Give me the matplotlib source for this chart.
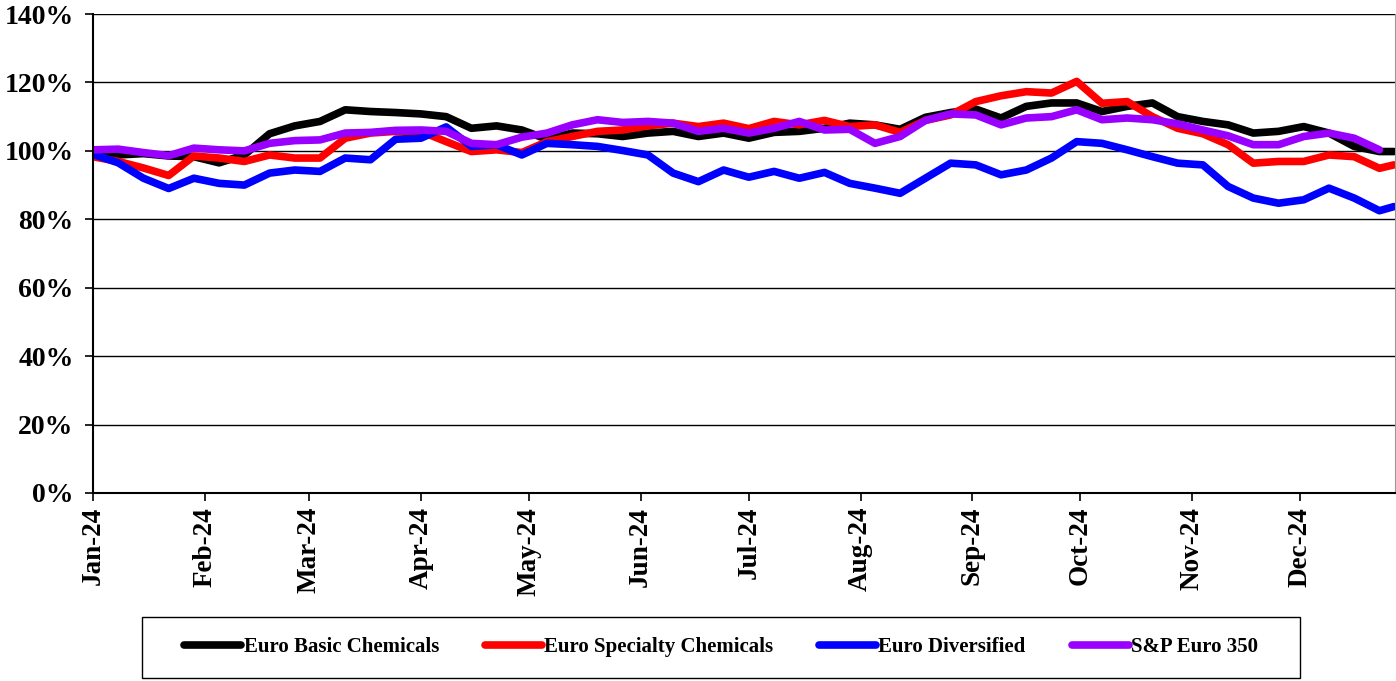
import datetime as dt
import numpy as np
import matplotlib
matplotlib.use("Agg")
import matplotlib.pyplot as plt
import matplotlib.dates as mdates
from matplotlib.patches import Rectangle
from matplotlib.ticker import FuncFormatter, MultipleLocator

# weekly readings (Mondays), last point = Dec 27
dates = [dt.datetime(2024, 1, 1) + dt.timedelta(days=7 * i) for i in range(52)]
dates.append(dt.datetime(2024, 12, 27))

basic = [99.0, 98.8, 99.2, 98.5, 98.3, 96.5, 98.8, 105.0, 107.3, 108.6,
         112.0, 111.5, 111.2, 110.8, 110.0, 106.6, 107.3, 106.1, 103.4, 105.2,
         105.0, 104.2, 105.2, 105.7, 104.2, 105.2, 103.7, 105.4, 105.7, 106.6,
         108.1, 107.6, 106.3, 109.8, 111.2, 112.2, 109.6, 113.0, 114.0, 114.0,
         111.5, 113.0, 114.0, 110.0, 108.6, 107.6, 105.2, 105.7, 107.1, 105.2,
         101.3, 99.8, 99.8]
specialty = [98.3, 96.9, 95.0, 92.8, 98.5, 97.9, 96.9, 98.8, 97.9, 97.9,
             103.7, 105.2, 105.7, 105.7, 102.7, 99.8, 100.3, 99.5, 102.7, 104.2,
             105.7, 106.1, 107.3, 108.1, 107.1, 108.1, 106.5, 108.6, 107.6, 108.9,
             107.1, 107.6, 105.4, 108.9, 110.5, 114.4, 116.1, 117.3, 116.9, 120.3,
             113.9, 114.4, 110.0, 106.6, 105.0, 101.8, 96.4, 96.9, 96.9, 98.8,
             98.3, 94.9, 95.9]
diversified = [99.0, 96.5, 92.0, 89.0, 92.0, 90.5, 90.0, 93.5, 94.4, 94.0,
               97.9, 97.4, 103.4, 103.7, 107.0, 101.3, 101.8, 98.8, 102.2, 101.8,
               101.3, 100.1, 98.8, 93.5, 91.0, 94.4, 92.3, 94.0, 92.0, 93.7,
               90.5, 89.1, 87.6, 92.0, 96.4, 95.9, 93.0, 94.4, 97.9, 102.7,
               102.2, 100.3, 98.3, 96.4, 95.9, 89.6, 86.2, 84.7, 85.7, 89.1,
               86.2, 82.5, 83.7]
sp350 = [100.3, 100.5, 99.5, 98.6, 100.8, 100.3, 100.0, 102.2, 103.0, 103.2,
         105.2, 105.4, 106.0, 106.1, 105.7, 102.2, 101.8, 104.0, 105.2, 107.6,
         109.1, 108.3, 108.6, 108.1, 105.7, 106.6, 105.2, 106.6, 108.6, 106.1,
         106.3, 102.2, 104.2, 108.9, 110.8, 110.5, 107.6, 109.6, 110.0, 112.0,
         109.1, 109.6, 109.1, 107.9, 106.1, 104.4, 101.8, 101.8, 104.2, 105.2,
         103.7, 100.3, np.nan]

series = [
    ("Euro Basic Chemicals", basic, "#000000"),
    ("Euro Specialty Chemicals", specialty, "#FF0000"),
    ("Euro Diversified", diversified, "#0000FF"),
    ("S&P Euro 350", sp350, "#9900FF"),
]

plt.rcParams['font.family'] = ['Liberation Serif', 'DejaVu Serif']
plt.rcParams['font.weight'] = 'bold'

fig = plt.figure(figsize=(13.96, 6.81), dpi=100)
ax = fig.add_axes([93 / 1396, 1 - 493 / 681, 1 - 93 / 1396 - 0.0007, (493 - 14) / 681])

for name, vals, color in series:
    ax.plot(dates, vals, color=color, lw=5.5, label=name, solid_capstyle='round',
            solid_joinstyle='round')

ax.set_ylim(0, 140)
ax.yaxis.set_major_locator(MultipleLocator(20))
ax.yaxis.set_major_formatter(FuncFormatter(lambda v, p: f"{v:.0f}%"))
ax.set_xlim(dt.datetime(2024, 1, 1), dt.datetime(2024, 12, 27, 8))
ax.xaxis.set_major_locator(mdates.MonthLocator())
ax.xaxis.set_major_formatter(mdates.DateFormatter('%b-%y'))
ax.grid(axis='y', color='black', lw=1)
ax.set_axisbelow(True)

ax.spines['top'].set_visible(False)
ax.spines['right'].set_color('#999999')
ax.spines['left'].set_linewidth(1.5)
ax.spines['bottom'].set_linewidth(1.5)
ax.tick_params(axis='both', direction='out', length=6, width=1.2)
ax.tick_params(axis='y', labelsize=20, pad=8)
ax.tick_params(axis='x', labelsize=19.5, labelrotation=90, pad=4)
for lbl in ax.get_xticklabels() + ax.get_yticklabels():
    lbl.set_fontweight('bold')

# legend box drawn separately so it can be wider than the entries
leg = fig.legend(loc='center', bbox_to_anchor=(0.5165, 0.05), ncol=4, fontsize=15,
                 frameon=False, handlelength=2.75, handletextpad=0.1,
                 columnspacing=2.2)
fig.patches.append(Rectangle((142 / 1396, 3 / 681), 1158 / 1396, 61 / 681,
                             transform=fig.transFigure, fill=False,
                             edgecolor='black', lw=1.0))

fig.savefig("out.png", dpi=100)
